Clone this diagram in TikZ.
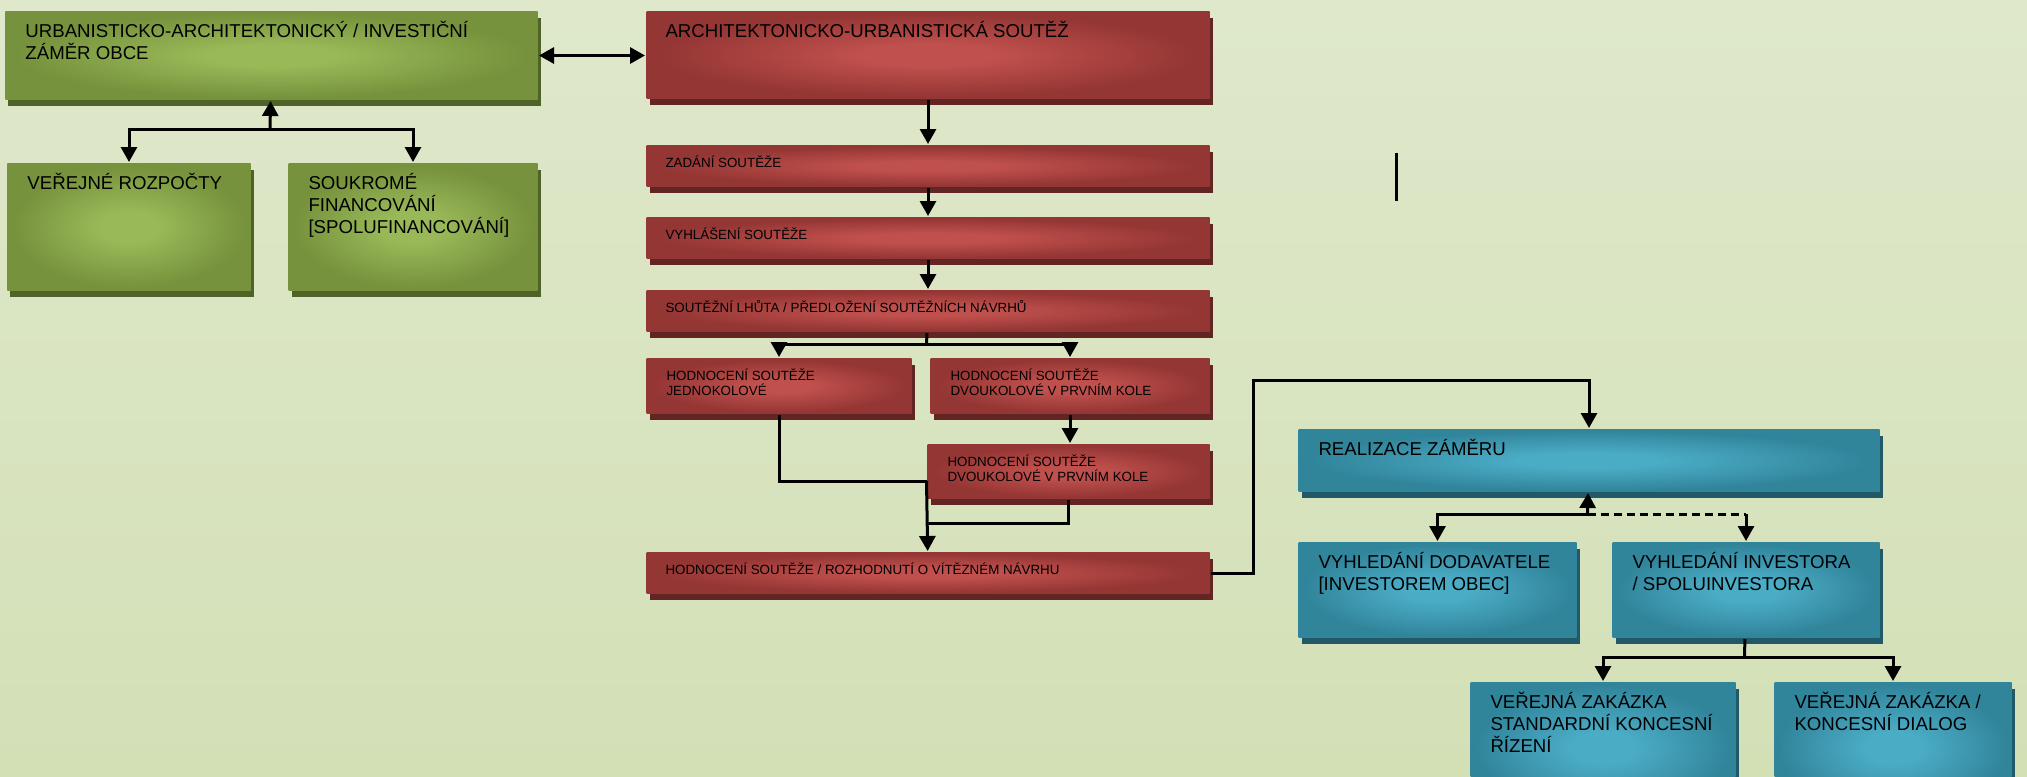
\documentclass[tikz,border=0pt]{standalone}
\usepackage{fontspec}
\setmainfont{Liberation Sans}
\usetikzlibrary{%
  arrows.meta,% Triangle tips
  shadows,% drop shadow
  calc%
}
\definecolor{bgtop}{RGB}{223,232,203}
\definecolor{bgbottom}{RGB}{211,224,182}
\definecolor{gshadow}{RGB}{79,98,40}
\definecolor{rshadow}{RGB}{99,37,35}
\definecolor{bshadow}{RGB}{33,89,104}
\pgfdeclareradialshading{greenglow}{\pgfpoint{0bp}{0bp}}{rgb(0bp)=(0.600,0.725,0.345); rgb(6bp)=(0.600,0.725,0.345); rgb(24bp)=(0.463,0.573,0.235); rgb(50bp)=(0.463,0.573,0.235)}
\pgfdeclareradialshading{redglow}{\pgfpoint{0bp}{0bp}}{rgb(0bp)=(0.753,0.314,0.302); rgb(6bp)=(0.753,0.314,0.302); rgb(24bp)=(0.580,0.212,0.204); rgb(50bp)=(0.580,0.212,0.204)}
\pgfdeclareradialshading{blueglow}{\pgfpoint{0bp}{0bp}}{rgb(0bp)=(0.294,0.675,0.776); rgb(6bp)=(0.294,0.675,0.776); rgb(24bp)=(0.192,0.522,0.608); rgb(50bp)=(0.192,0.522,0.608)}

\begin{document}
\begin{tikzpicture}
  [
  line width=0.03cm, >={Triangle[width=0.16cm,length=0.15cm]},
  box/.style={anchor=north west, inner sep=0pt, shade},
  gbox/.style={box, shading=greenglow, drop shadow={shadow xshift=0.03cm, shadow yshift=-0.06cm, fill=gshadow, opacity=1}},
  rbox/.style={box, shading=redglow, drop shadow={shadow xshift=0.03cm, shadow yshift=-0.06cm, fill=rshadow, opacity=1}},
  bbox/.style={box, shading=blueglow, drop shadow={shadow xshift=0.03cm, shadow yshift=-0.06cm, fill=bshadow, opacity=1}},
  bigtext/.style={anchor=north west, inner sep=0pt, align=left, font=\fontsize{5.3}{6.25}\selectfont},
  smalltext/.style={bigtext, font=\fontsize{3.8}{4.3}\selectfont}
  ]

  \useasboundingbox (0,0) rectangle (20.27,-7.76);
  \shade[top color=bgtop, bottom color=bgbottom] (0,0) rectangle (20.27,-7.76);

  % zamer obce a financovani
  \node[gbox, minimum width=5.32cm, minimum height=0.88cm] (urban) at (0.04,-0.10) {};
  \node[gbox, minimum width=2.43cm, minimum height=1.27cm] (rozpocty) at (0.06,-1.62) {};
  \node[gbox, minimum width=2.49cm, minimum height=1.27cm] (soukrome) at (2.87,-1.62) {};
  \node[bigtext] (urban-t) at ($(urban.north west)+(0.2,-0.1)$) {URBANISTICKO-ARCHITEKTONICKÝ / INVESTIČNÍ\\ZÁMĚR OBCE};
  \node[bigtext] (rozpocty-t) at ($(rozpocty.north west)+(0.2,-0.1)$) {VEŘEJNÉ ROZPOČTY};
  \node[bigtext] (soukrome-t) at ($(soukrome.north west)+(0.2,-0.1)$) {SOUKROMÉ\\FINANCOVÁNÍ\\{[}SPOLUFINANCOVÁNÍ]};

  % soutez
  \node[rbox, minimum width=5.63cm, minimum height=0.87cm] (soutez) at (6.45,-0.10) {};
  \node[rbox, minimum width=5.63cm, minimum height=0.41cm] (zadani) at (6.45,-1.44) {};
  \node[rbox, minimum width=5.63cm, minimum height=0.41cm] (vyhlaseni) at (6.45,-2.16) {};
  \node[rbox, minimum width=5.63cm, minimum height=0.41cm] (lhuta) at (6.45,-2.89) {};
  \node[rbox, minimum width=2.65cm, minimum height=0.55cm] (jedno) at (6.45,-3.57) {};
  \node[rbox, minimum width=2.79cm, minimum height=0.55cm] (dvou1) at (9.29,-3.57) {};
  \node[rbox, minimum width=2.82cm, minimum height=0.54cm] (dvou2) at (9.26,-4.43) {};
  \node[rbox, minimum width=5.63cm, minimum height=0.41cm] (final) at (6.45,-5.51) {};
  \node[bigtext] (soutez-t) at ($(soutez.north west)+(0.19,-0.1)$) {ARCHITEKTONICKO-URBANISTICKÁ SOUTĚŽ};
  \node[smalltext] (zadani-t) at ($(zadani.north west)+(0.19,-0.1)$) {ZADÁNÍ SOUTĚŽE};
  \node[smalltext] (vyhlaseni-t) at ($(vyhlaseni.north west)+(0.19,-0.1)$) {VYHLÁŠENÍ SOUTĚŽE};
  \node[smalltext] (lhuta-t) at ($(lhuta.north west)+(0.19,-0.1)$) {SOUTĚŽNÍ LHŮTA / PŘEDLOŽENÍ SOUTĚŽNÍCH NÁVRHŮ};
  \node[smalltext] (jedno-t) at ($(jedno.north west)+(0.2,-0.1)$) {HODNOCENÍ SOUTĚŽE\\JEDNOKOLOVÉ};
  \node[smalltext] (dvou1-t) at ($(dvou1.north west)+(0.2,-0.1)$) {HODNOCENÍ SOUTĚŽE\\DVOUKOLOVÉ V PRVNÍM KOLE};
  \node[smalltext] (dvou2-t) at ($(dvou2.north west)+(0.2,-0.1)$) {HODNOCENÍ SOUTĚŽE\\DVOUKOLOVÉ V PRVNÍM KOLE};
  \node[smalltext] (final-t) at ($(final.north west)+(0.19,-0.1)$) {HODNOCENÍ SOUTĚŽE / ROZHODNUTÍ O VÍTĚZNÉM NÁVRHU};

  % realizace
  \node[bbox, minimum width=5.81cm, minimum height=0.62cm] (realizace) at (12.97,-4.28) {};
  \node[bbox, minimum width=2.78cm, minimum height=0.95cm] (dodavatel) at (12.97,-5.41) {};
  \node[bbox, minimum width=2.67cm, minimum height=0.95cm] (investor) at (16.11,-5.41) {};
  \node[bbox, minimum width=2.65cm, minimum height=1.30cm] (zakazka1) at (14.69,-6.81) {};
  \node[bbox, minimum width=2.37cm, minimum height=1.30cm] (zakazka2) at (17.73,-6.81) {};
  \node[bigtext] (realizace-t) at ($(realizace.north west)+(0.2,-0.1)$) {REALIZACE ZÁMĚRU};
  \node[bigtext] (dodavatel-t) at ($(dodavatel.north west)+(0.2,-0.1)$) {VYHLEDÁNÍ DODAVATELE\\{[}INVESTOREM OBEC]};
  \node[bigtext] (investor-t) at ($(investor.north west)+(0.2,-0.1)$) {VYHLEDÁNÍ INVESTORA\\/ SPOLUINVESTORA};
  \node[bigtext] (zakazka1-t) at ($(zakazka1.north west)+(0.2,-0.1)$) {VEŘEJNÁ ZAKÁZKA\\STANDARDNÍ KONCESNÍ\\ŘÍZENÍ};
  \node[bigtext] (zakazka2-t) at ($(zakazka2.north west)+(0.2,-0.1)$) {VEŘEJNÁ ZAKÁZKA /\\KONCESNÍ DIALOG};

  % spojnice
  \draw[<->] (urban.east) -- (urban.east -| soutez.west);
  \coordinate (fund) at (2.70,-1.29);
  \draw[->] (fund) -- (urban);
  \draw[->] (fund) -| (rozpocty);
  \draw[->] (fund) -| (soukrome);

  \foreach \a/\b in {soutez/zadani,zadani/vyhlaseni,vyhlaseni/lhuta}
    \draw[->] (\a) -- (\b);

  \coordinate (split) at (9.265,-3.44);
  \draw (lhuta) -- (split);
  \draw[->] (split) -| (jedno);
  \draw[->] (split) -| (dvou1);
  \draw[->] (dvou1.south) -- (dvou1.south |- dvou2.north);

  \coordinate (merge) at (9.265,-4.81);
  \coordinate (join2) at (9.265,-5.23);
  \draw (jedno) |- (merge);
  \draw (dvou2) |- (join2);
  \draw[->] (merge) -- (final);

  \coordinate (hop) at (12.53,-3.80);
  \draw[->] (final) -| (hop) -| (realizace);

  \coordinate (vyhl) at (15.875,-5.14);
  \draw[->] (vyhl) -- (realizace);
  \draw[->] (vyhl) -| (dodavatel);
  \draw[dash pattern=on 0.08cm off 0.05cm] (vyhl) -- (vyhl -| investor);
  \draw[->] (vyhl -| investor) -- (investor);

  \coordinate (zak) at (17.445,-6.57);
  \draw (investor) -- (zak);
  \draw[->] (zak) -| (zakazka1);
  \draw[->] (zak) -| (zakazka2);

  \coordinate (mark-a) at (13.96,-1.53);
  \coordinate (mark-b) at (13.96,-2.01);
  \draw (mark-a) -- (mark-b);
\end{tikzpicture}
\end{document}
